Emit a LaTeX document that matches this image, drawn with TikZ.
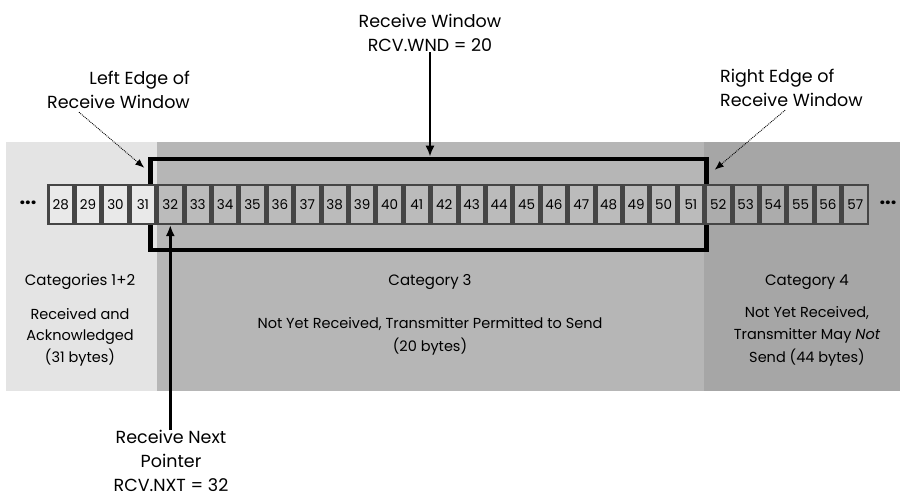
\documentclass[tikz,border=0pt]{standalone}
\usepackage{fontspec}
\setmainfont{Poppins}
\usetikzlibrary{positioning,arrows.meta,calc}
\definecolor{BandLight}{HTML}{E4E4E4}
\definecolor{BandMid}{HTML}{B6B6B6}
\definecolor{BandDark}{HTML}{A6A6A6}
\definecolor{CellEdge}{HTML}{454545}
\definecolor{CellLight}{HTML}{E9E9E9}
\definecolor{CellMid}{HTML}{BBBBBB}
\definecolor{CellDark}{HTML}{ACACAC}

\begin{document}
\begin{tikzpicture}[x=1pt, y=-1pt,
    cell/.style={rectangle, draw=CellEdge, line width=2.5pt, inner sep=0pt,
        minimum width=24.9pt, minimum height=38.5pt,
        font=\fontsize{13.5}{13.5}\selectfont},
    window/.style={rectangle, draw=black, line width=4.5pt, inner sep=0pt,
        minimum width=556pt, minimum height=91pt},
    lbl/.style={inner sep=0pt, font=\fontsize{17.5}{24.5}\selectfont},
    cat/.style={inner sep=0pt, font=\fontsize{14.5}{21.5}\selectfont, align=center},
    ptr/.style={-{Latex[length=11pt, width=9pt]}, line width=2.4pt},
    hint/.style={-{Latex[length=9pt, width=7pt]}, densely dotted, line width=0.9pt},
]
\useasboundingbox (0,0) rectangle (900,500);

% category bands
\fill[BandLight] (6,142) rectangle (157,391);
\fill[BandMid] (157,142) rectangle (704,391);
\fill[BandDark] (704,142) rectangle (900,391);

\node[window] (win) at (428.5,204.5) {};

\foreach \n in {28,...,31}
    \node[cell, fill=CellLight] (c\n) at ({60.7+27.4*(\n-28)},204.5) {\n};
\foreach \n in {32,...,51}
    \node[cell, fill=CellMid] (c\n) at ({60.7+27.4*(\n-28)},204.5) {\n};
\foreach \n in {52,...,57}
    \node[cell, fill=CellDark] (c\n) at ({60.7+27.4*(\n-28)},204.5) {\n};

\node[lbl, font=\fontsize{20}{20}\selectfont] (ldots) at (28,203) {\textbf{...}};
\node[lbl, font=\fontsize{20}{20}\selectfont] (rdots) at (888,203) {\textbf{...}};

\node[lbl, align=center] (wnd) at (430,33) {Receive Window\\RCV.WND = 20};
\node[lbl, align=right, anchor=east] (ledge) at (190,90) {Left Edge of\\Receive Window};
\node[lbl, align=left, anchor=west] (redge) at (720,88) {Right Edge of\\Receive Window};
\node[lbl, align=center, font=\fontsize{17.5}{24}\selectfont] (nxt) at (171,461) {Receive Next\\Pointer\\RCV.NXT = 32};

\node[cat, font=\fontsize{15}{15}\selectfont] (cat12) at (80,282) {Categories 1+2};
\node[cat] (desc12) at (80,337) {Received and\\Acknowledged\\(31 bytes)};
\node[cat, font=\fontsize{15}{15}\selectfont] (cat3) at (430,282) {Category 3};
\node[cat, font=\fontsize{14.5}{23}\selectfont] (desc3) at (430,336) {Not Yet Received, Transmitter Permitted to Send\\(20 bytes)};
\node[cat, font=\fontsize{15}{15}\selectfont] (cat4) at (807,282) {Category 4};
\node[cat, font=\fontsize{14.5}{22.5}\selectfont] (desc4) at (807,336) {Not Yet Received,\\Transmitter May \textit{Not}\\Send (44 bytes)};

\coordinate (ltip) at ([xshift=-4pt, yshift=-11pt]win.north west);
\coordinate (rtip) at ([xshift=6pt, yshift=-13pt]win.north east);

\draw[ptr] (wnd.south) -- (wnd.south |- win.north);
\draw[ptr] (c32.south |- nxt.north) -- (c32.south);
\draw[hint] ([xshift=32pt, yshift=-3pt]ledge.south west) -- (ltip);
\draw[hint] ([xshift=65pt, yshift=-3pt]redge.south west) -- (rtip);
\end{tikzpicture}
\end{document}
